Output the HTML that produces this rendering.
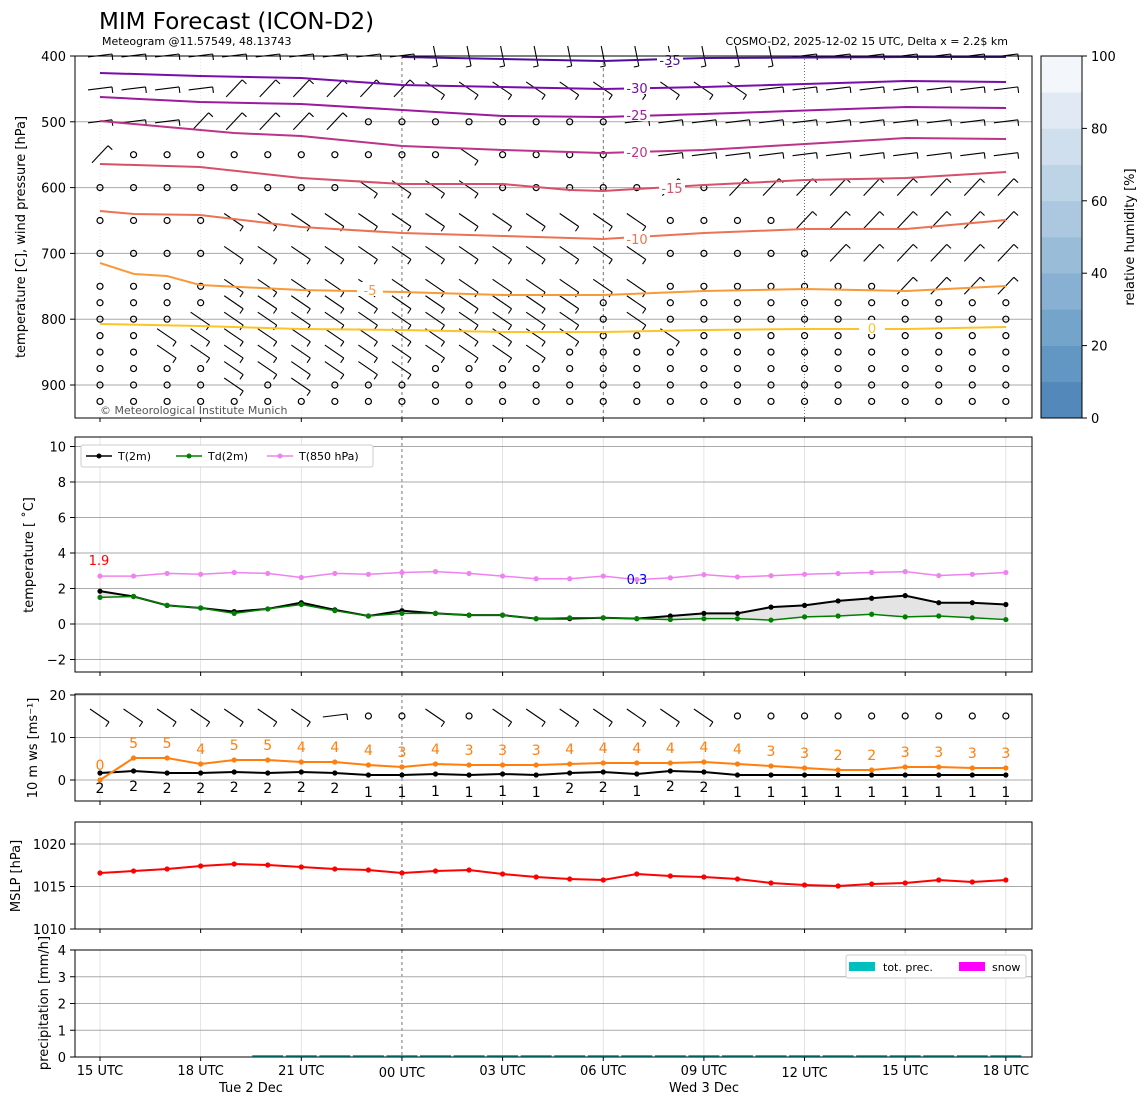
<!DOCTYPE html>
<html><head><meta charset="utf-8"><style>
body{margin:0;background:#fff}
svg{display:block;font-family:"DejaVu Sans","Liberation Sans",sans-serif}
</style></head><body>
<svg id="s" width="1148" height="1105" xmlns="http://www.w3.org/2000/svg"></svg>
<script>
const S=document.getElementById('s');let h='';
const X=i=>100+33.55*i;
function L(x1,y1,x2,y2,c,w,da){h+=`<line x1="${x1}" y1="${y1}" x2="${x2}" y2="${y2}" stroke="${c}" stroke-width="${w||1}" ${da?`stroke-dasharray="${da}"`:''}/>`;}
function T(x,y,t,o){o=o||{};h+=`<text x="${x}" y="${y}" font-size="${o.s||13}" fill="${o.c||'#000'}" text-anchor="${o.a||'middle'}" ${o.r?`transform="rotate(-90 ${x} ${y})"`:''}>${t}</text>`;}
function P(pts,c,w,mk){h+=`<polyline points="${pts.map(p=>p.join(',')).join(' ')}" fill="none" stroke="${c}" stroke-width="${w||1.5}"/>`;if(mk)pts.forEach(p=>h+=`<circle cx="${p[0]}" cy="${p[1]}" r="2.6" fill="${c}"/>`);}
const panels=[[56,418],[437,672],[694,801],[822,929],[950,1057]];
panels.forEach(([a,b],k)=>{for(let j=0;j<10;j++){const x=X(3*j);if(j==3)L(x,a,x,b,'#555',0.8,'3,3');else L(x,a,x,b,'#ddd',0.8,k==0?'1,2':'');}
 if(k==0){L(X(15),a,X(15),b,'#555',0.8,'3,3');L(X(21),a,X(21),b,'#555',0.8,'1,2');}});
const py=p=>56+(p-400)*0.658;
[500,600,700,800,900].forEach(p=>L(75,py(p),1032,py(p),'#aaa',1));
const rows=[[400,'hhhhhhhhhhvvvvvvvvvvvhhhhhhh'],[450,'hhhhbbbbbbaaaaaaaaaahhhhhhhh'],[500,'hhhbbbbboooooooohhhhhhhhhhhh'],[550,'booooooooooaooooohhhhhhhhhhh'],[600,'ooooooooaaaaooooobobbbbbbbbb'],[650,'ooooaaaaaaaaaaaaaoooobbbbbbb'],[700,'ooooaaaaaaaaaaaaaooooobbbbbb'],[750,'ooooaaaaaaaaaaaaaooooooobbbb'],[775,'ooooaaaaaaaaaaaoaooooooooooo'],[800,'oooaaaaaaaaaaaaoaooooooooooo'],[825,'ooaaaaaaaaaaaaaooaoooooooooo'],[850,'ooaaaaaaaaaaaaoooooooooooooo'],[875,'ooooaaaaaaoooooooooooooooooo'],[900,'ooooaoaooooooooooooooooooooo'],[925,'oooooooooooooooooooooooooooo']];
const sh={a:[-10,-7,9,6],b:[-8,8,8,-9],h:[-12,1,12,-2],v:[-2,-10,2,10]};
function barb(x,y,t){if(t=='o'){h+=`<circle cx="${x}" cy="${y}" r="3" fill="none" stroke="#000" stroke-width="1.2"/>`;return;}const s=sh[t]||sh.a;L(x+s[0],y+s[1],x+s[2],y+s[3],'#000',1.1);const ex=x+s[2],ey=y+s[3];L(ex,ey,ex-(s[3]-s[1])*0.25,ey+(s[2]-s[0])*0.25,'#000',1.1);}
rows.forEach(([p,m])=>{for(let i=0;i<28;i++)barb(X(i),py(p),m[i]);});
const cont=[['#4b0e9a',[[402,57],[503,59],[603,61],[704,58],[906,57],[1006,57]],'-35',670,60],
['#780ea8',[[100,73],[200,76],[301,78],[402,85],[503,87],[603,89],[704,87],[906,81],[1006,82]],'-30',637,88],
['#9c1a9e',[[100,97],[200,102],[301,104],[402,110],[503,116],[603,117],[704,114],[906,107],[1006,108]],'-25',637,115],
['#bb3488',[[100,121],[234,133],[301,136],[402,146],[503,150],[603,153],[704,150],[805,144],[906,138],[1006,139]],'-20',637,152],
['#d6506a',[[100,164],[200,167],[301,178],[402,184],[503,184],[570,190],[603,191],[704,185],[805,180],[906,178],[1006,172]],'-15',672,188],
['#ec7352',[[100,211],[134,214],[200,215],[301,227],[402,233],[503,236],[603,239],[704,233],[805,229],[906,229],[1006,220]],'-10',637,239],
['#f99a3a',[[100,263],[134,274],[167,276],[200,285],[301,290],[402,292],[503,295],[603,295],[704,291],[805,289],[906,291],[1006,286]],'-5',370,290],
['#fcc428',[[100,324],[200,326],[301,329],[402,330],[503,332],[603,332],[704,330],[805,329],[906,329],[1006,327]],'0',872,328]];
cont.forEach(([c,pts,lb,lx,ly])=>{P(pts,c,2);h+=`<rect x="${lx-13}" y="${ly-8}" width="26" height="14" fill="#fff"/>`;T(lx,ly+5,lb,{c:c});});
h+=`<rect x="75" y="56" width="957" height="362" fill="none" stroke="#000"/>`;
T(100,414,'© Meteorological Institute Munich',{s:11,c:'#555',a:'start'});
[400,500,600,700,800,900].forEach(p=>{L(70,py(p),75,py(p),'#000');T(66,py(p)+5,p,{a:'end'});});
T(25,237,'temperature [C], wind pressure [hPa]',{r:1});
const cb=['#5288ba','#6397c3','#75a4cb','#87b0d3','#99bcd9','#abc8e0','#bdd4e7','#cfdfed','#e1eaf4','#f3f7fb'];
cb.forEach((c,k)=>h+=`<rect x="1041" y="${418-36.2*(k+1)}" width="41" height="36.5" fill="${c}"/>`);
h+=`<rect x="1041" y="56" width="41" height="362" fill="none" stroke="#000"/>`;
[0,20,40,60,80,100].forEach((v,k)=>{const y=418-72.4*k;L(1082,y,1087,y,'#000');T(1091,y+5,v,{a:'start'});});
T(1134,237,'relative humidity [%]',{r:1});
T(99,29,'MIM Forecast (ICON-D2)',{s:23,a:'start'});
T(102,45,'Meteogram @11.57549, 48.13743',{s:11,a:'start'});
T(1008,45,'COSMO-D2, 2025-12-02 15 UTC, Delta x = 2.2$ km',{s:11,a:'end'});
const ty=v=>624-v*17.75;
[10,8,6,4,2,0,-2].forEach(v=>{L(75,ty(v),1032,ty(v),'#aaa',1);L(70,ty(v),75,ty(v),'#000');T(66,ty(v)+5,v==-2?'−2':v,{a:'end'});});
const t2=[1.85,1.55,1.05,0.9,0.7,0.85,1.2,0.8,0.45,0.75,0.6,0.5,0.5,0.3,0.3,0.35,0.3,0.45,0.6,0.6,0.95,1.05,1.3,1.45,1.6,1.2,1.2,1.1];
const td=[1.5,1.55,1.05,0.9,0.6,0.85,1.1,0.75,0.45,0.6,0.6,0.5,0.5,0.3,0.35,0.35,0.3,0.25,0.3,0.3,0.22,0.4,0.45,0.55,0.4,0.45,0.35,0.25];
const t8=[2.7,2.7,2.85,2.8,2.9,2.85,2.62,2.85,2.8,2.9,2.95,2.85,2.7,2.55,2.55,2.7,2.5,2.6,2.78,2.65,2.72,2.8,2.85,2.9,2.95,2.73,2.8,2.9];
const A=t2.map((v,i)=>[X(i),ty(v)]),B=td.map((v,i)=>[X(i),ty(v)]);
h+=`<polygon points="${A.concat(B.slice().reverse()).map(p=>p.join(',')).join(' ')}" fill="#e4e4e4" stroke="#888" stroke-width="0.5"/>`;
P(t8.map((v,i)=>[X(i),ty(v)]),'#ee82ee',1.5,1);P(A,'#000',2,1);P(B,'#008000',1.5,1);
T(99,565,'1.9',{c:'#f00'});T(637,584,'0.3',{c:'#00f'});
h+=`<rect x="81" y="445" width="292" height="22" rx="2" fill="#fff" stroke="#ccc"/>`;
[[86,'#000','T(2m)'],[176,'#008000','Td(2m)'],[267,'#ee82ee','T(850 hPa)']].forEach(([x,c,t])=>{L(x,456,x+26,456,c,1.5);h+=`<circle cx="${x+13}" cy="456" r="2.5" fill="${c}"/>`;T(x+32,460,t,{s:11,a:'start'});});
h+=`<rect x="75" y="437" width="957" height="235" fill="none" stroke="#000"/>`;
T(33,555,'temperature [ ˚C]',{r:1});
const wy=v=>780-v*4.25;
[0,10,20].forEach(v=>{L(75,wy(v),1032,wy(v),'#aaa',1);L(70,wy(v),75,wy(v),'#000');T(66,wy(v)+5,v,{a:'end'});});
for(let i=0;i<28;i++)barb(X(i),716,'aaaaaaahooaoaaaaaaaooooooooo'[i]);
const gy=[780,758,758,764,760,760,762,762,765,767,764,765,765,765,764,763,763,763,762,764,766,768,770,770,767,767,768,768];
const gl=[0,5,5,4,5,5,4,4,4,3,4,3,3,3,4,4,4,4,4,4,3,3,2,2,3,3,3,3];
const wyy=[773,771,773,773,772,773,772,773,775,775,774,775,774,775,773,772,774,771,772,775,775,775,775,775,775,775,775,775];
const wl=[2,2,2,2,2,2,2,2,1,1,1,1,1,1,2,2,1,2,2,1,1,1,1,1,1,1,1,1];
P(wyy.map((y,i)=>[X(i),y]),'#000',2,1);P(gy.map((y,i)=>[X(i),y]),'#ff7f0e',2,1);
gl.forEach((v,i)=>T(X(i),gy[i]-10,v,{c:'#ff7f0e',s:14}));
wl.forEach((v,i)=>T(X(i),wyy[i]+(v==1?22:20),v,{s:14}));
h+=`<rect x="75" y="694" width="957" height="107" fill="none" stroke="#000"/>`;
T(37,748,'10 m ws [ms⁻¹]',{r:1});
const my=v=>844+(1020-v)*8.5;
[1010,1015,1020].forEach(v=>{L(75,my(v),1032,my(v),'#aaa',1);L(70,my(v),75,my(v),'#000');T(66,my(v)+5,v,{a:'end'});});
const mp=[873,871,869,866,864,865,867,869,870,873,871,870,874,877,879,880,874,876,877,879,883,885,886,884,883,880,882,880];
P(mp.map((y,i)=>[X(i),y]),'#f00',2,1);
h+=`<rect x="75" y="822" width="957" height="107" fill="none" stroke="#000"/>`;
T(20,876,'MSLP [hPa]',{r:1});
const ry=v=>1057-v*26.75;
[0,1,2,3,4].forEach(v=>{if(v>0&&v<4)L(75,ry(v),1032,ry(v),'#aaa',1);L(70,ry(v),75,ry(v),'#000');T(66,ry(v)+5,v,{a:'end'});});
for(let i=5;i<28;i++)L(X(i)-15.5,1056,X(i)+15.5,1056,'#00bfbf',2);
h+=`<rect x="846" y="955" width="180" height="23" rx="2" fill="#fff" stroke="#ccc"/>`;
h+=`<rect x="849" y="962" width="26" height="9" fill="#00bfbf"/><rect x="959" y="962" width="26" height="9" fill="#f0f"/>`;
T(883,971,'tot. prec.',{s:11,a:'start'});T(992,971,'snow',{s:11,a:'start'});
h+=`<rect x="75" y="950" width="957" height="107" fill="none" stroke="#000"/>`;
T(48,1003,'precipitation [mm/h]',{r:1});
panels.forEach(([a,b])=>{for(let j=0;j<10;j++)L(X(3*j),b,X(3*j),b+4,'#000');});
['15 UTC','18 UTC','21 UTC','00 UTC','03 UTC','06 UTC','09 UTC','12 UTC','15 UTC','18 UTC'].forEach((t,j)=>T(X(3*j),(j==3||j==7)?1077:1075,t));
T(251,1092,'Tue 2 Dec');T(704,1092,'Wed 3 Dec');
S.innerHTML=h;
</script>
</body></html>
